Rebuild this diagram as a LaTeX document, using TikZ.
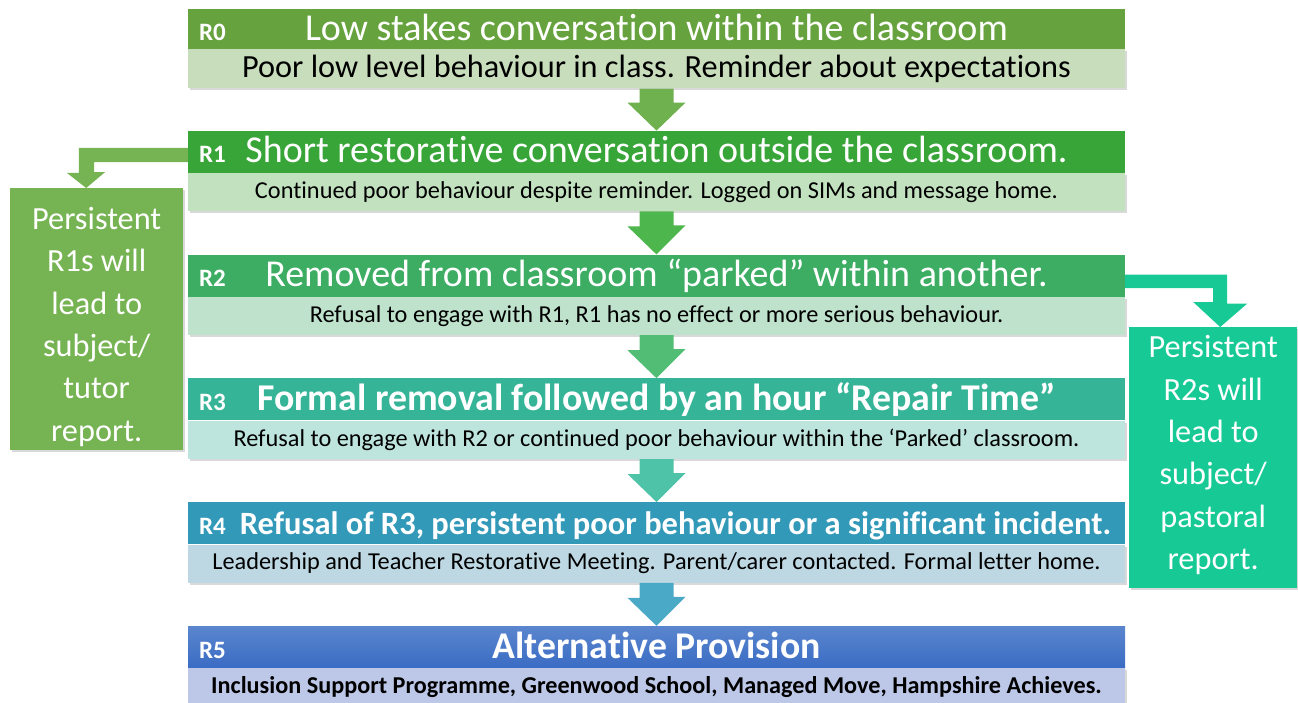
\documentclass[tikz,border=0pt]{standalone}
\usepackage{fontspec}
\setmainfont{Carlito}[Ligatures=NoCommon]
\usepackage{tikz}
\usetikzlibrary{positioning, calc, shadows}

\definecolor{hzero}{HTML}{66A33E}
\definecolor{szero}{HTML}{C8DDBB}
\definecolor{hone}{HTML}{38A538}
\definecolor{sone}{HTML}{C2E1BF}
\definecolor{htwo}{HTML}{3CAD62}
\definecolor{stwo}{HTML}{BFE2CC}
\definecolor{hthree}{HTML}{36B497}
\definecolor{sthree}{HTML}{BDE5DD}
\definecolor{hfour}{HTML}{3399B9}
\definecolor{sfour}{HTML}{BDD8E3}
\definecolor{hfivetop}{HTML}{5B86CE}
\definecolor{hfivebot}{HTML}{3A6CC4}
\definecolor{sfive}{HTML}{BDC7E7}
\definecolor{lboxc}{HTML}{76B352}
\definecolor{rboxc}{HTML}{16C995}
\definecolor{azero}{HTML}{6EB14E}
\definecolor{aone}{HTML}{4DB64D}
\definecolor{atwo}{HTML}{52BE75}
\definecolor{athree}{HTML}{4EC3A7}
\definecolor{afour}{HTML}{4BA9C8}

\tikzset{
  hdr/.style={minimum width=937pt, minimum height=42pt, inner sep=0pt,
    text height=26pt, text depth=4pt, text=white,
    font=\fontsize{38}{40}\selectfont},
  sub/.style={minimum width=937pt, minimum height=38pt, inner sep=0pt, text=black,
    font=\fontsize{24.3}{26}\selectfont,
    drop shadow={shadow xshift=1.5pt, shadow yshift=-2pt, opacity=.3}},
  lvl/.style={anchor=base west, inner sep=0pt, text=white,
    font=\bfseries\fontsize{25}{27}\selectfont},
  side/.style={minimum width=173pt, minimum height=262pt, inner sep=0pt,
    drop shadow={shadow xshift=1.5pt, shadow yshift=-2pt, opacity=.3}},
  sidetext/.style={inner sep=0pt, text=white, align=center,
    font=\fontsize{32.3}{42.4}\selectfont},
}

\begin{document}
\begin{tikzpicture}[x=1pt, y=-1pt]
\useasboundingbox (0,0) rectangle (1298,702);

% the six levels
\node[hdr, fill=hzero, minimum height=40pt] (h0) at (656.5,29) {Low stakes conversation within the classroom};
\node[sub, fill=szero, minimum height=39pt, below=0pt of h0, font=\fontsize{32.3}{34}\selectfont] (s0) {Poor low level behaviour in class. Reminder about expectations};

\node[hdr, fill=hone, below=42pt of s0] (h1) {Short restorative conversation outside the classroom.};
\node[sub, fill=sone, below=0pt of h1] (s1) {Continued poor behaviour despite reminder. Logged on SIMs and message home.};

\node[hdr, fill=htwo, below=43pt of s1] (h2) {Removed from classroom “parked” within another.};
\node[sub, fill=stwo, below=0pt of h2] (s2) {Refusal to engage with R1, R1 has no effect or more serious behaviour.};

\node[hdr, fill=hthree, below=43pt of s2, font=\bfseries\fontsize{37.8}{40}\selectfont] (h3) {Formal removal followed by an hour “Repair Time”};
\node[sub, fill=sthree, below=0pt of h3] (s3) {Refusal to engage with R2 or continued poor behaviour within the ‘Parked’ classroom.};

\node[hdr, fill=hfour, below=43pt of s3, font=\bfseries\fontsize{32.5}{34}\selectfont] (h4) {\hspace*{38pt}Refusal of R3, persistent poor behaviour or a significant incident.};
\node[sub, fill=sfour, below=0pt of h4] (s4) {Leadership and Teacher Restorative Meeting. Parent/carer contacted. Formal letter home.};

\node[hdr, top color=hfivetop, bottom color=hfivebot, below=43pt of s4, font=\bfseries\fontsize{37.7}{40}\selectfont] (h5) {Alternative Provision};
\node[sub, fill=sfive, below=0pt of h5, minimum height=37pt, font=\bfseries\fontsize{24.2}{26}\selectfont] (s5) {Inclusion Support Programme, Greenwood School, Managed Move, Hampshire Achieves.};

\foreach \i in {0,...,5} {
\node[lvl] (l\i) at ([shift={(11,11)}]h\i.west) {R\i};
}

% arrows between levels
\foreach \a/\b/\c in {s0/h1/azero, s1/h2/aone, s2/h3/atwo, s3/h4/athree, s4/h5/afour} {
\fill[\c] (\a.south) ++(-17,0) -- ++(34,0) -- ++(0,14) -- ++(12,0) -- (\b.north)
  -- ++(-29,-28) -- ++(12,0) -- cycle;
}

% side boxes
\node[side, fill=lboxc, anchor=north west] (lb) at (10,188) {};
\node[sidetext] (lbt) at ([yshift=-7.5pt]lb.center) {Persistent\\R1s will\\lead to\\subject/\\tutor\\report.};
\node[side, fill=rboxc, anchor=north west, minimum width=168pt, minimum height=261pt] (rb) at (1129,327) {};
\node[sidetext] (rbt) at ([yshift=2.5pt]rb.center) {Persistent\\R2s will\\lead to\\subject/\\pastoral\\report.};

\fill[lboxc] (h1.west) ++(0,-4) -- ++(-109,0) -- ++(0,25) -- ++(-12,0) -- ($(lb.north)+(-10.5,0)$)
  -- ++(19,-16) -- ++(-11,0) -- ++(0,-10) -- ++(94,0) -- cycle;
\fill[rboxc] (h2.east) ++(0,-1) -- ++(102,0) -- ++(0,29) -- ++(20,0) -- ($(rb.north)+(7,0)$)
  -- ++(-27,-25) -- ++(20,0) -- ++(0,-14) -- ++(-88,0) -- cycle;

\end{tikzpicture}
\end{document}
